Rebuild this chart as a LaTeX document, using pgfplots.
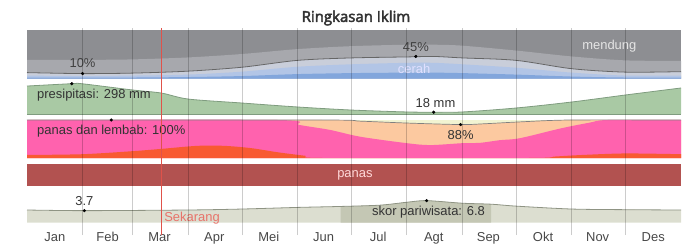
\documentclass[border=0pt]{standalone}
\usepackage{fontspec}
\setmainfont{Liberation Sans}
\newfontfamily\titlefont{Open Sans}[FakeBold=3]
\usepackage{pgfplots}
\usepackage{pgfplotstable}
\pgfplotsset{compat=1.18}

\definecolor{overcast}{HTML}{8D8E92}
\definecolor{mcloudy}{HTML}{A7A8AD}
\definecolor{pcloudy}{HTML}{C9CEDA}
\definecolor{mclear}{HTML}{B2C5E6}
\definecolor{clear}{HTML}{82A6DC}
\definecolor{cline}{HTML}{666666}
\definecolor{rain}{HTML}{A9C9A4}
\definecolor{rainline}{HTML}{7F9C7F}
\definecolor{comfy}{HTML}{F2F4D2}
\definecolor{peach}{HTML}{FCC9A0}
\definecolor{muggy}{HTML}{FF62AE}
\definecolor{hotdry}{HTML}{F85A32}
\definecolor{panas}{HTML}{B25250}
\definecolor{tour}{HTML}{DCDED0}
\definecolor{tourhi}{HTML}{C4C7B4}
\definecolor{tourline}{HTML}{8F9484}
\definecolor{nowred}{HTML}{E8736A}
\definecolor{nowline}{HTML}{E0524A}

% cloud cover (percent)
\pgfplotstableread{
d G L c2 c1
0 38 12 6 2
31 38 10 5 2
59 39 11 6 2
90 43 15 8 3
120 50 23 14 5
151 60 37 24 9
181 66 42 29 11
212 69 44 32 12
227 69 45 32 12
243 67 42 29 11
273 57 37 22 8
304 45 20 12 4
334 37 13 6 2
365 36 14 6 2
}\cloud

% precipitation (mm)
\pgfplotstableread{
d mm
0 275
25 298
31 297
59 236
75 206
90 147
120 108
151 69
181 39
212 20
227 18
243 20
273 59
304 118
334 187
365 256
}\precip

% comfort bands (percent, cumulative)
\pgfplotstableread{
d O
0 8
31 10
59 18
75 24
95 32
110 32
125 26
140 15
155 6
165 0
280 0
295 4
310 8
334 12
365 10
}\orange
\pgfplotstableread{
d P
0 100
140 100
152 87
169 74
186 56
212 39
225 34
243 39
253 40
264 47
275 52
298 78
314 93
324 100
365 100
}\pink
\pgfplotstableread{
d L
0 100
165 100
186 97
212 92
242 88
255 90
275 95
303 100
365 100
}\comfline

% tourism score
\pgfplotstableread{
d s
0 3.9
32 3.7
90 3.9
120 4.2
151 4.7
175 5.0
197 5.4
212 6.3
223 6.8
243 6.0
259 5.7
273 5.1
304 4.2
334 4.0
365 3.9
}\tourism
\pgfplotstableread{
d s
175 5.0
197 5.4
212 6.3
223 6.8
243 6.0
259 5.7
}\tourhigh

\pgfplotsset{band/.style={anchor=north west, width=654bp, scale only axis,
  xmin=0, xmax=365, hide axis, clip=false}}
\newcommand\lbl{\fontsize{13}{15}\selectfont}

\begin{document}
\begin{tikzpicture}
\useasboundingbox (0,0) rectangle (688bp,-245bp);
\node[font=\titlefont\fontsize{15}{18}\selectfont, text=black!80] at (356bp,-18bp) {Ringkasan Iklim};

% ---- cloud band
\begin{axis}[band, at={(27bp,-29.5bp)}, height=49bp, ymin=0, ymax=100]
\addplot[fill=overcast, draw=none] coordinates {(0,100) (365,100)} \closedcycle;
\addplot[fill=mcloudy, draw=none, smooth] table[x=d,y=G] {\cloud} \closedcycle;
\addplot[fill=pcloudy, draw=none, smooth] table[x=d,y=L] {\cloud} \closedcycle;
\addplot[fill=mclear, draw=none, smooth] table[x=d,y=c2] {\cloud} \closedcycle;
\addplot[fill=clear, draw=none, smooth] table[x=d,y=c1] {\cloud} \closedcycle;
\addplot[cline, line width=0.8bp, smooth] table[x=d,y=L] {\cloud};
\addplot[only marks, mark=*, mark size=1.4bp, black] coordinates {(31,10) (217,45)};
\node[font=\lbl, text=black!75] at (axis cs:31,31) {10\%};
\node[font=\lbl, text=black!75] at (axis cs:217,65) {45\%};
\node[font=\lbl, text=white!88!blue] at (axis cs:216,20) {cerah};
\node[font=\lbl, text=white!90!black] at (axis cs:325,67) {mendung};
\end{axis}

% ---- precipitation band
\begin{axis}[band, at={(27bp,-80bp)}, height=34bp, ymin=0, ymax=334.4]
\addplot[fill=rain, draw=none, smooth] table[x=d,y=mm] {\precip} \closedcycle;
\addplot[rainline, line width=0.8bp, smooth] table[x=d,y=mm] {\precip};
\addplot[rainline, line width=0.6bp] coordinates {(0,0) (365,0)};
\addplot[only marks, mark=*, mark size=1.4bp, black] coordinates {(25,298) (227,18)};
\node[font=\lbl, text=black!80, anchor=west, inner sep=0pt] at (axis cs:5.6,187) {presipitasi: 298 mm};
\node[font=\lbl, text=black!80] at (axis cs:228,108) {18 mm};
\end{axis}

% ---- comfort band
\begin{axis}[band, at={(27bp,-120bp)}, height=38bp, ymin=0, ymax=100]
\addplot[fill=comfy, draw=none] coordinates {(0,100) (365,100)} \closedcycle;
\addplot[fill=peach, draw=none, smooth] table[x=d,y=L] {\comfline} \closedcycle;
\addplot[fill=muggy, draw=none, smooth] table[x=d,y=P] {\pink} \closedcycle;
\addplot[fill=hotdry, draw=none, smooth] table[x=d,y=O] {\orange} \closedcycle;
\addplot[black!50, line width=0.7bp, smooth] table[x=d,y=L] {\comfline};
\addplot[only marks, mark=*, mark size=1.4bp, black] coordinates {(47,100) (242,88)};
\node[font=\lbl, text=black!80, anchor=west, inner sep=0pt] at (axis cs:5.6,71) {panas dan lembab: 100\%};
\node[font=\lbl, text=black!80] at (axis cs:242,60.5) {88\%};
\end{axis}

% ---- hot band
\begin{axis}[band, at={(27bp,-164bp)}, height=22bp, ymin=0, ymax=1]
\addplot[fill=panas, draw=none] coordinates {(0,1) (365,1)} \closedcycle;
\node[font=\lbl, text=white!85!red] at (axis cs:183,0.5) {panas};
\end{axis}

% ---- tourism band
\begin{axis}[band, at={(27bp,-190bp)}, height=32.6bp, ymin=0, ymax=10.09]
\addplot[fill=tour, draw=none, smooth] table[x=d,y=s] {\tourism} \closedcycle;
\addplot[fill=tourhi, draw=none, smooth] table[x=d,y=s] {\tourhigh} \closedcycle;
\addplot[tourline, line width=0.8bp, smooth] table[x=d,y=s] {\tourism};
\addplot[only marks, mark=*, mark size=1.4bp, black] coordinates {(32,3.7) (223,6.8)};
\node[font=\lbl, text=black!80] at (axis cs:32,6.7) {3.7};
\node[font=\lbl, text=black!80, anchor=west, inner sep=0pt] at (axis cs:192.5,3.3) {skor pariwisata: 6.8};
\node[font=\lbl, text=nowred, anchor=west, inner sep=0pt] at (axis cs:76.5,1.5) {Sekarang};
\end{axis}

% ---- month-boundary grid
\begin{axis}[anchor=north west, at={(27bp,-28bp)}, width=654bp, height=207bp, scale only axis,
  xmin=0, xmax=365, ymin=0, ymax=1, clip=false,
  axis line style={draw=none}, ytick=\empty, major tick length=0pt,
  xtick={31,59,90,120,151,181,212,243,273,304,334}, xticklabels={},
  xmajorgrids, grid style={black, opacity=0.2, line width=0.8bp}]
\end{axis}

% ---- month labels (mid-month)
\begin{axis}[anchor=north west, at={(27bp,-28bp)}, width=654bp, height=207bp, scale only axis,
  xmin=0, xmax=365, ymin=0, ymax=1, clip=false,
  axis line style={draw=none}, ytick=\empty, major tick length=0pt,
  xtick={15.5,45,74,104.5,135,165.5,196,227,257.5,288,318.5,349.5},
  xticklabels={Jan,Feb,Mar,Apr,Mei,Jun,Jul,Agt,Sep,Okt,Nov,Des},
  xticklabel style={font=\lbl, text=black!72, yshift=6bp}]
% "now" marker: a thin bar at day 75
\addplot[fill=nowline, draw=none] coordinates {(74.6,1) (75.4,1)} \closedcycle;
\end{axis}
\end{tikzpicture}
\end{document}
